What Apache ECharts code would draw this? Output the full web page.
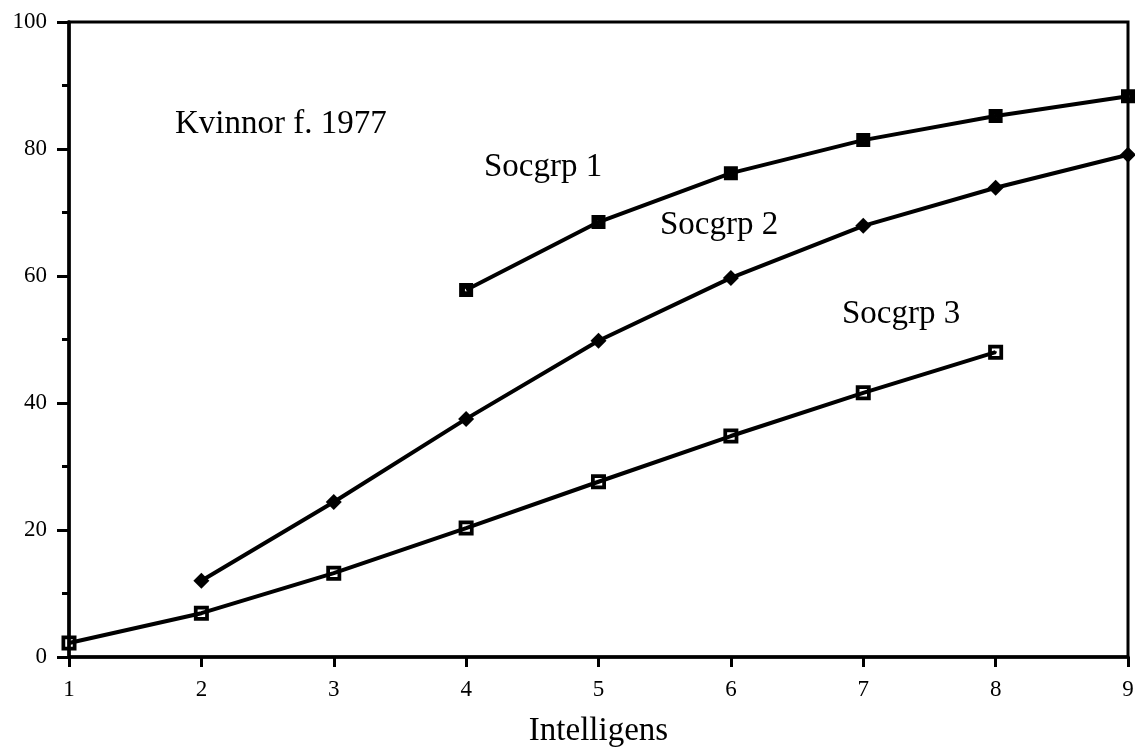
<!DOCTYPE html>
<html>
<head>
<meta charset="utf-8">
<script src="https://cdn.jsdelivr.net/npm/echarts@6/dist/echarts.min.js"></script>
<style>
  html, body { margin: 0; padding: 0; background: #fff; }
  #chart { width: 1135px; height: 751px; }
</style>
</head>
<body>
<div id="chart"></div>
<script>
var socgrp1X = [4, 5, 6, 7, 8, 9];
var socgrp1Y = [57.8, 68.5, 76.2, 81.4, 85.2, 88.3];
var socgrp2X = [2, 3, 4, 5, 6, 7, 8, 9];
var socgrp2Y = [12.0, 24.4, 37.5, 49.8, 59.7, 67.9, 73.9, 79.1];
var socgrp3X = [1, 2, 3, 4, 5, 6, 7, 8];
var socgrp3Y = [2.2, 6.9, 13.2, 20.3, 27.6, 34.8, 41.6, 48.0];

function pairs(xs, ys) {
    return xs.map(function (x, i) { return [x, ys[i]]; });
}

var font = '"Liberation Serif", "DejaVu Serif", serif';
// kvadrat med liten prick
var filledBox = 'path://M0,0H12V12H0Z M5,5V7H7V5Z';
var openBox = 'path://M0,0H14V14H0Z M3.5,3.5V10.5H10.5V3.5Z M6,6H8V8H6Z';

var myChart = echarts.init(document.getElementById('chart'));

var option = {
    backgroundColor: '#fff',
    animation: false,
    grid: {
        left: 69, right: 7, top: 22, bottom: 94,
        outerBoundsMode: 'none',
        containLabel: false,
        show: true,
        borderColor: '#000',
        borderWidth: 3,
        backgroundColor: 'transparent'
    },
    xAxis: {
        type: 'value',
        min: 1, max: 9, interval: 1,
        name: 'Intelligens',
        nameLocation: 'middle',
        nameGap: 58,
        nameTextStyle: { fontFamily: font, fontSize: 33, color: '#000' },
        axisLine: { lineStyle: { color: '#000', width: 3.5 } },
        axisTick: { show: true, length: 10, lineStyle: { color: '#000', width: 3 } },
        axisLabel: { fontFamily: font, fontSize: 23, color: '#000', margin: 21 },
        splitLine: { show: false }
    },
    yAxis: {
        type: 'value',
        min: 0, max: 100, interval: 20,
        axisLine: { lineStyle: { color: '#000', width: 3.5 } },
        axisTick: { show: true, length: 12, lineStyle: { color: '#000', width: 3 } },
        minorTick: { show: true, splitNumber: 2, length: 7, lineStyle: { color: '#000', width: 3 } },
        axisLabel: { fontFamily: font, fontSize: 23, color: '#000', margin: 22 },
        splitLine: { show: false }
    },
    graphic: [
        { type: 'text', left: 175, top: 108, style: { text: 'Kvinnor f. 1977', font: '33px ' + font, fill: '#000' } },
        { type: 'text', left: 484, top: 151, style: { text: 'Socgrp 1', font: '33px ' + font, fill: '#000' } },
        { type: 'text', left: 660, top: 209, style: { text: 'Socgrp 2', font: '33px ' + font, fill: '#000' } },
        { type: 'text', left: 842, top: 298, style: { text: 'Socgrp 3', font: '33px ' + font, fill: '#000' } }
    ],
    series: [
        {
            name: 'Socgrp 1',
            type: 'line',
            data: pairs(socgrp1X, socgrp1Y),
            symbol: filledBox,
            symbolSize: 14,
            lineStyle: { color: '#000', width: 4 },
            itemStyle: { color: '#000' }
        },
        {
            name: 'Socgrp 2',
            type: 'line',
            data: pairs(socgrp2X, socgrp2Y),
            symbol: 'diamond',
            symbolSize: 16,
            lineStyle: { color: '#000', width: 4 },
            itemStyle: { color: '#000' }
        },
        {
            name: 'Socgrp 3',
            type: 'line',
            data: pairs(socgrp3X, socgrp3Y),
            symbol: openBox,
            symbolSize: 15,
            lineStyle: { color: '#000', width: 4 },
            itemStyle: { color: '#000' },
            z: 3
        }
    ]
};
myChart.setOption(option);
</script>
</body>
</html>
